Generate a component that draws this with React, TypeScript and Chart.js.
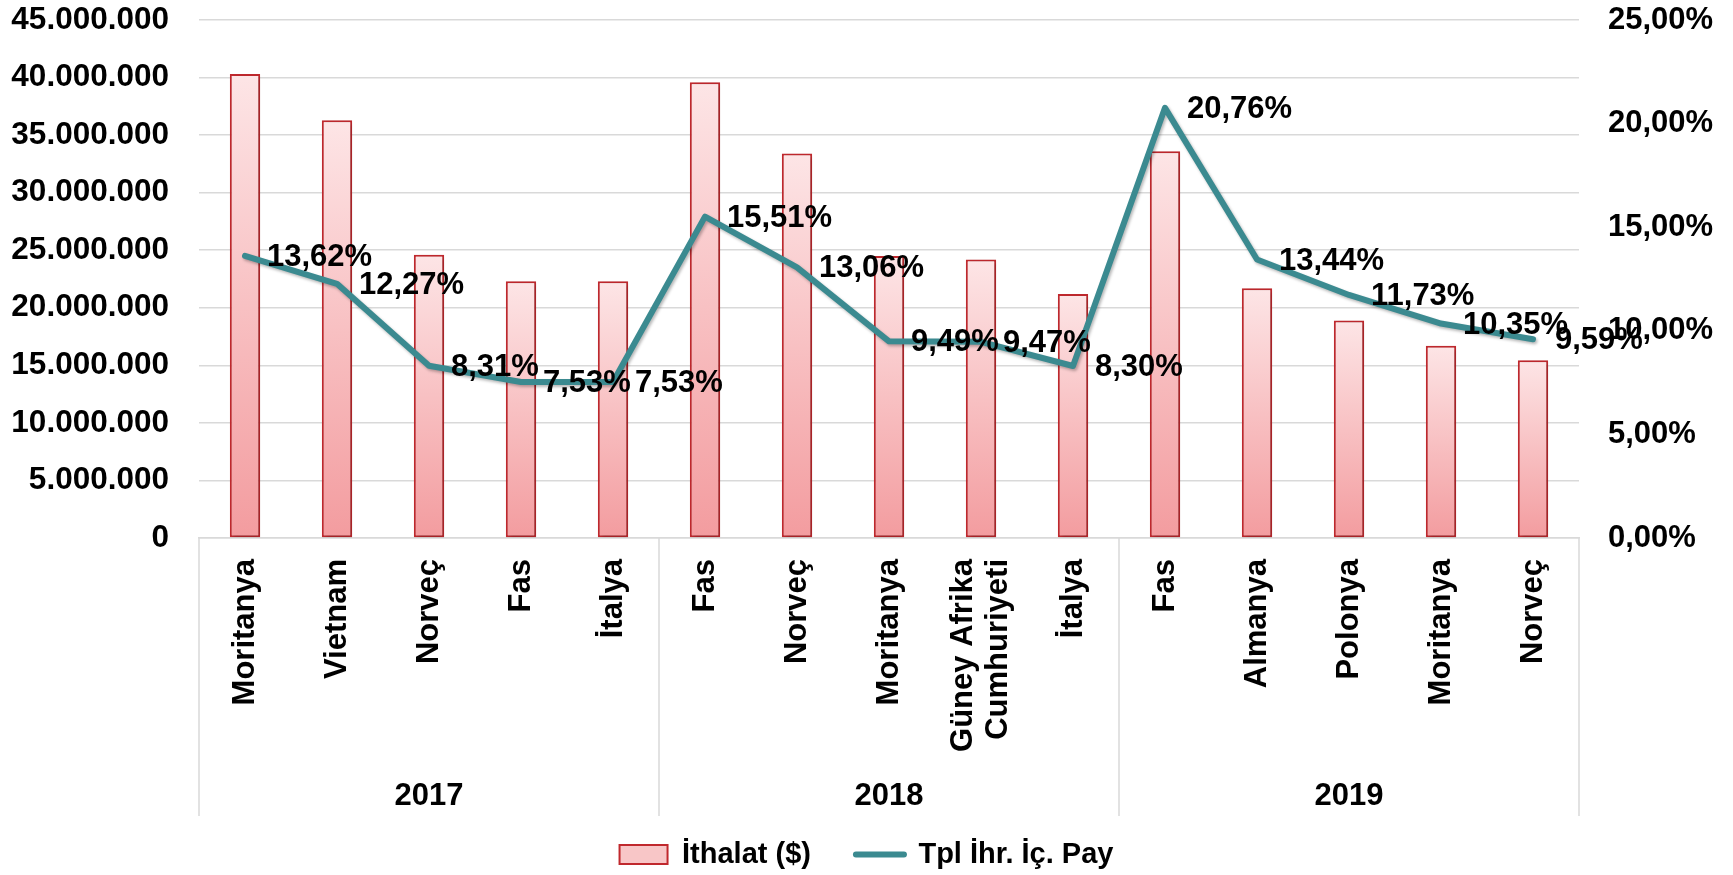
import React, { useEffect, useRef } from 'react';
import { Chart, registerables } from 'chart.js';

Chart.register(...registerables);

const FONT = "'Liberation Sans', Arial, Helvetica, sans-serif";

const years = ['2017', '2018', '2019'];
const groupSizes = [5, 5, 5];
const categories: (string | string[])[] = [
  'Moritanya', 'Vietnam', 'Norveç', 'Fas', 'İtalya',
  'Fas', 'Norveç', 'Moritanya', ['Güney Afrika', 'Cumhuriyeti'], 'İtalya',
  'Fas', 'Almanya', 'Polonya', 'Moritanya', 'Norveç',
];
const importValues = [
  40300000, 36300000, 24600000, 22300000, 22300000,
  39600000, 33400000, 24500000, 24200000, 21200000,
  33600000, 21700000, 18900000, 16700000, 15450000,
];
const shareValues = [
  13.62, 12.27, 8.31, 7.53, 7.53,
  15.51, 13.06, 9.49, 9.47, 8.30,
  20.76, 13.44, 11.73, 10.35, 9.59,
];
const seriesNames = ['İthalat ($)', 'Tpl İhr. İç. Pay'];
const leftMax = 45000000;
const leftStep = 5000000;
const rightMax = 25;
const rightStep = 5;

const TEAL = '#3B8A90';
const BAR_BORDER = '#C0282D';
const GRID = '#D9D9D9';
const PAD_BOTTOM = -4;

const fmtThousands = (v: number) => String(Math.round(v)).replace(/\B(?=(\d{3})+(?!\d))/g, '.');
const fmtPct = (v: number) => v.toFixed(2).replace('.', ',') + '%';

const shadowPlugin = {
  id: 'shadowPlugin',
  beforeDatasetDraw(chart: any, args: any) {
    const c = chart.ctx;
    c.save();
    if (args.index === 0) {
      c.shadowColor = 'rgba(0,0,0,0.22)';
      c.shadowBlur = 4;
      c.shadowOffsetX = 2;
      c.shadowOffsetY = 2;
    } else {
      c.shadowColor = 'rgba(0,0,0,0.28)';
      c.shadowBlur = 3;
      c.shadowOffsetX = 1.5;
      c.shadowOffsetY = 2;
    }
  },
  afterDatasetDraw(chart: any) {
    chart.ctx.restore();
  },
};

const annotationsPlugin = {
  id: 'annotationsPlugin',
  afterDraw(chart: any) {
    const c = chart.ctx;
    const area = chart.chartArea;
    const x = chart.scales.x;
    c.save();
    // separators
    c.strokeStyle = GRID;
    c.lineWidth = 1.5;
    const bounds: number[] = [area.left];
    let idx = 0;
    groupSizes.forEach((n) => {
      idx += n;
      if (idx >= categories.length) bounds.push(area.right);
      else bounds.push((x.getPixelForValue(idx - 1) + x.getPixelForValue(idx)) / 2);
    });
    bounds.forEach((bx) => {
      c.beginPath();
      c.moveTo(bx, area.bottom);
      c.lineTo(bx, area.bottom + 278);
      c.stroke();
    });
    // category labels
    c.fillStyle = '#000';
    c.font = `bold 31px ${FONT}`;
    c.textAlign = 'right';
    c.textBaseline = 'middle';
    categories.forEach((lab, i) => {
      const px = x.getPixelForValue(i);
      const lines = Array.isArray(lab) ? lab : [lab];
      const lh = 35;
      lines.forEach((ln, j) => {
        const off = (j - (lines.length - 1) / 2) * lh;
        c.save();
        c.translate(px + off, area.bottom + 21);
        c.rotate(-Math.PI / 2);
        c.fillText(ln, 0, 0);
        c.restore();
      });
    });
    // year labels
    c.font = `bold 31px ${FONT}`;
    c.textAlign = 'center';
    years.forEach((yr, g) => {
      const cx = (bounds[g] + bounds[g + 1]) / 2;
      c.fillText(yr, cx, area.bottom + 258);
    });
    c.restore();
  },
  afterDatasetsDraw(chart: any) {
    const c = chart.ctx;
    const meta = chart.getDatasetMeta(1);
    c.save();
    c.fillStyle = '#000';
    c.font = `bold 31px ${FONT}`;
    c.textAlign = 'left';
    c.textBaseline = 'middle';
    meta.data.forEach((pt: any, i: number) => {
      c.fillText(fmtPct(shareValues[i]), pt.x + 22, pt.y + 1.5);
    });
    c.restore();
  },
};

export default function App() {
  const ref = useRef<HTMLCanvasElement>(null);
  useEffect(() => {
    if (!ref.current) return;
    Chart.defaults.font.family = FONT;
    const chart = new Chart(ref.current, {
      type: 'bar',
      data: {
        labels: categories as any,
        datasets: [
          {
            type: 'bar',
            label: seriesNames[0],
            data: importValues,
            yAxisID: 'y',
            order: 1,
            barPercentage: 0.33,
            categoryPercentage: 1,
            borderColor: BAR_BORDER,
            borderWidth: 2,
            borderSkipped: false,
            backgroundColor: (ctx: any) => {
              const ch = ctx.chart;
              if (!ch.chartArea || ctx.type !== 'data' || !ch.scales.y) return '#F8C4C5';
              const ys = ch.scales.y;
              const top = ys.getPixelForValue(ctx.raw as number);
              const bottom = ys.getPixelForValue(0);
              const g = ch.ctx.createLinearGradient(0, top, 0, bottom);
              g.addColorStop(0, '#FDE5E6');
              g.addColorStop(1, '#F39C9F');
              return g;
            },
          } as any,
          {
            type: 'line',
            label: seriesNames[1],
            data: shareValues,
            yAxisID: 'y1',
            order: 0,
            borderColor: TEAL,
            backgroundColor: TEAL,
            borderWidth: 6,
            pointRadius: 0,
            tension: 0,
            borderJoinStyle: 'round',
            borderCapStyle: 'round',
          } as any,
        ],
      },
      options: {
        animation: false,
        responsive: true,
        maintainAspectRatio: false,
        layout: { padding: { top: 20, left: 0, right: 0, bottom: PAD_BOTTOM } },
        plugins: {
          tooltip: { enabled: false },
          legend: {
            display: true,
            position: 'bottom',
            labels: {
              usePointStyle: true,
              pointStyleWidth: 48,
              boxHeight: 19,
              padding: 45,
              color: '#000',
              font: { family: FONT, size: 29, weight: 'bold' },
              generateLabels: () => [
                {
                  text: seriesNames[0],
                  fillStyle: '#F8C6C7',
                  strokeStyle: BAR_BORDER,
                  lineWidth: 2,
                  pointStyle: 'rect',
                  datasetIndex: 0,
                  hidden: false,
                  fontColor: '#000',
                } as any,
                {
                  text: seriesNames[1],
                  fillStyle: TEAL,
                  strokeStyle: TEAL,
                  lineWidth: 6,
                  lineCap: 'round',
                  pointStyle: 'line',
                  datasetIndex: 1,
                  hidden: false,
                  fontColor: '#000',
                } as any,
              ],
            },
          },
        },
        scales: {
          x: {
            type: 'category',
            offset: true,
            grid: { display: false, drawTicks: false },
            border: { display: true, color: GRID, width: 1.5 },
            ticks: { display: false },
            afterFit: (scale: any) => {
              const lg = scale.chart.legend;
              const lh = lg ? lg.height : 0;
              scale.height = scale.chart.height - 538 - lh - PAD_BOTTOM;
              scale.paddingLeft = 0;
              scale.paddingRight = 0;
            },
          },
          y: {
            position: 'left',
            min: 0,
            max: leftMax,
            grid: { color: GRID, lineWidth: 1.5, drawTicks: false },
            border: { display: false },
            ticks: {
              stepSize: leftStep,
              padding: 30,
              color: '#000',
              font: { family: FONT, size: 31.5, weight: 'bold' },
              callback: (v: any) => fmtThousands(Number(v)),
            },
            afterFit: (scale: any) => {
              scale.width = 199;
              scale.paddingTop = 0;
              scale.paddingBottom = 0;
            },
          },
          y1: {
            position: 'right',
            min: 0,
            max: rightMax,
            grid: { display: false, drawTicks: false },
            border: { display: false },
            ticks: {
              stepSize: rightStep,
              padding: 29,
              color: '#000',
              font: { family: FONT, size: 31, weight: 'bold' },
              callback: (v: any) => fmtPct(Number(v)),
            },
            afterFit: (scale: any) => {
              scale.width = 154;
              scale.paddingTop = 0;
              scale.paddingBottom = 0;
            },
          },
        },
      },
      plugins: [shadowPlugin, annotationsPlugin],
    } as any);
    return () => chart.destroy();
  }, []);
  return (
    <div style={{ position: 'absolute', left: 0, top: 0, width: 1733, height: 875 }}>
      <canvas ref={ref} />
    </div>
  );
}
